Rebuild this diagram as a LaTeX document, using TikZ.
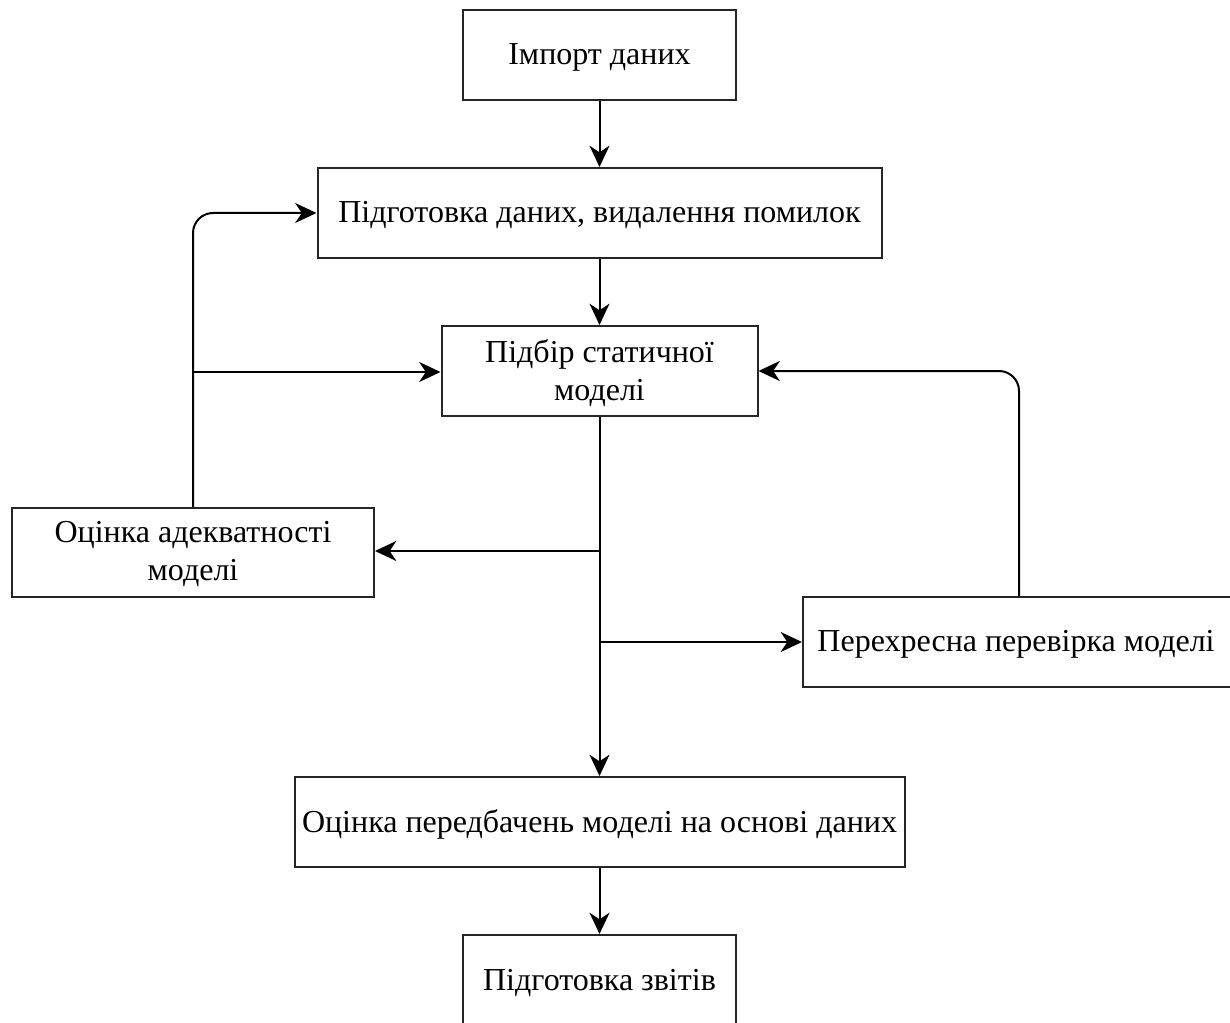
\documentclass[tikz,border=0pt]{standalone}
\usepackage{fontspec}
\setmainfont{Liberation Serif}
\usetikzlibrary{arrows.meta}
\begin{document}
\begin{tikzpicture}[x=0.75pt,y=-0.75pt,
  box/.style={draw=black!85,line width=1.5pt,rectangle,inner sep=0pt},
  lbl/.style={font=\fontsize{24}{29}\selectfont,align=center,inner sep=0pt},
  conn/.style={line width=1.5pt,-{Stealth[length=16pt,width=15pt,inset=5pt]}}]
\useasboundingbox (0,0) rectangle (1230,1023);
\clip (0,0) rectangle (1230,1023);
\fill[white] (0,0) rectangle (1230,1023);
\node[box,minimum width=205pt,minimum height=67.5pt] (b1) at (599.5,55) {};
\node[box,minimum width=423pt,minimum height=67.5pt] (b2) at (599.5,213) {};
\node[box,minimum width=237pt,minimum height=67.5pt] (b3) at (599.5,371) {};
\node[box,minimum width=271.5pt,minimum height=67pt] (b4) at (193,552.5) {};
\node[box,minimum width=324pt,minimum height=67.5pt] (b5) at (1019,642) {};
\node[box,minimum width=457.5pt,minimum height=67.5pt] (b6) at (599.5,822) {};
\node[box,minimum width=205pt,minimum height=67.5pt] (b7) at (599.5,980) {};
\node[lbl] (t1) at (599.5,57) {Імпорт даних};
\node[lbl] (t2) at (599.5,215) {Підготовка даних, видалення помилок};
\node[lbl] (t3) at (599.5,373) {Підбір статичної\\моделі};
\node[lbl] (t4) at (193,554) {Оцінка адекватності\\моделі};
\node[lbl] (t5) at (1016,644) {Перехресна перевірка моделі};
\node[lbl] (t6) at (599.5,824) {Оцінка передбачень моделі на основі даних};
\node[lbl] (t7) at (599.5,983) {Підготовка звітів};
\coordinate (j1) at (599.5,551);
\coordinate (j2) at (599.5,642);
\coordinate (j3) at (193,372);
\draw[conn] (b1.south) -- (b2.north);
\draw[conn] (b2.south) -- (b3.north);
\draw[conn] (b3.south) -- (b6.north);
\draw[conn] (j1) -- (b4.east |- j1);
\draw[conn] (j2) -- (b5.west);
\draw[conn,rounded corners=15pt] (b4.north) |- (b2.west);
\draw[conn] (j3) -- (b3.west |- j3);
\draw[conn,rounded corners=15pt] (b5.north) |- (b3.east);
\draw[conn] (b6.south) -- (b7.north);
\end{tikzpicture}
\end{document}
